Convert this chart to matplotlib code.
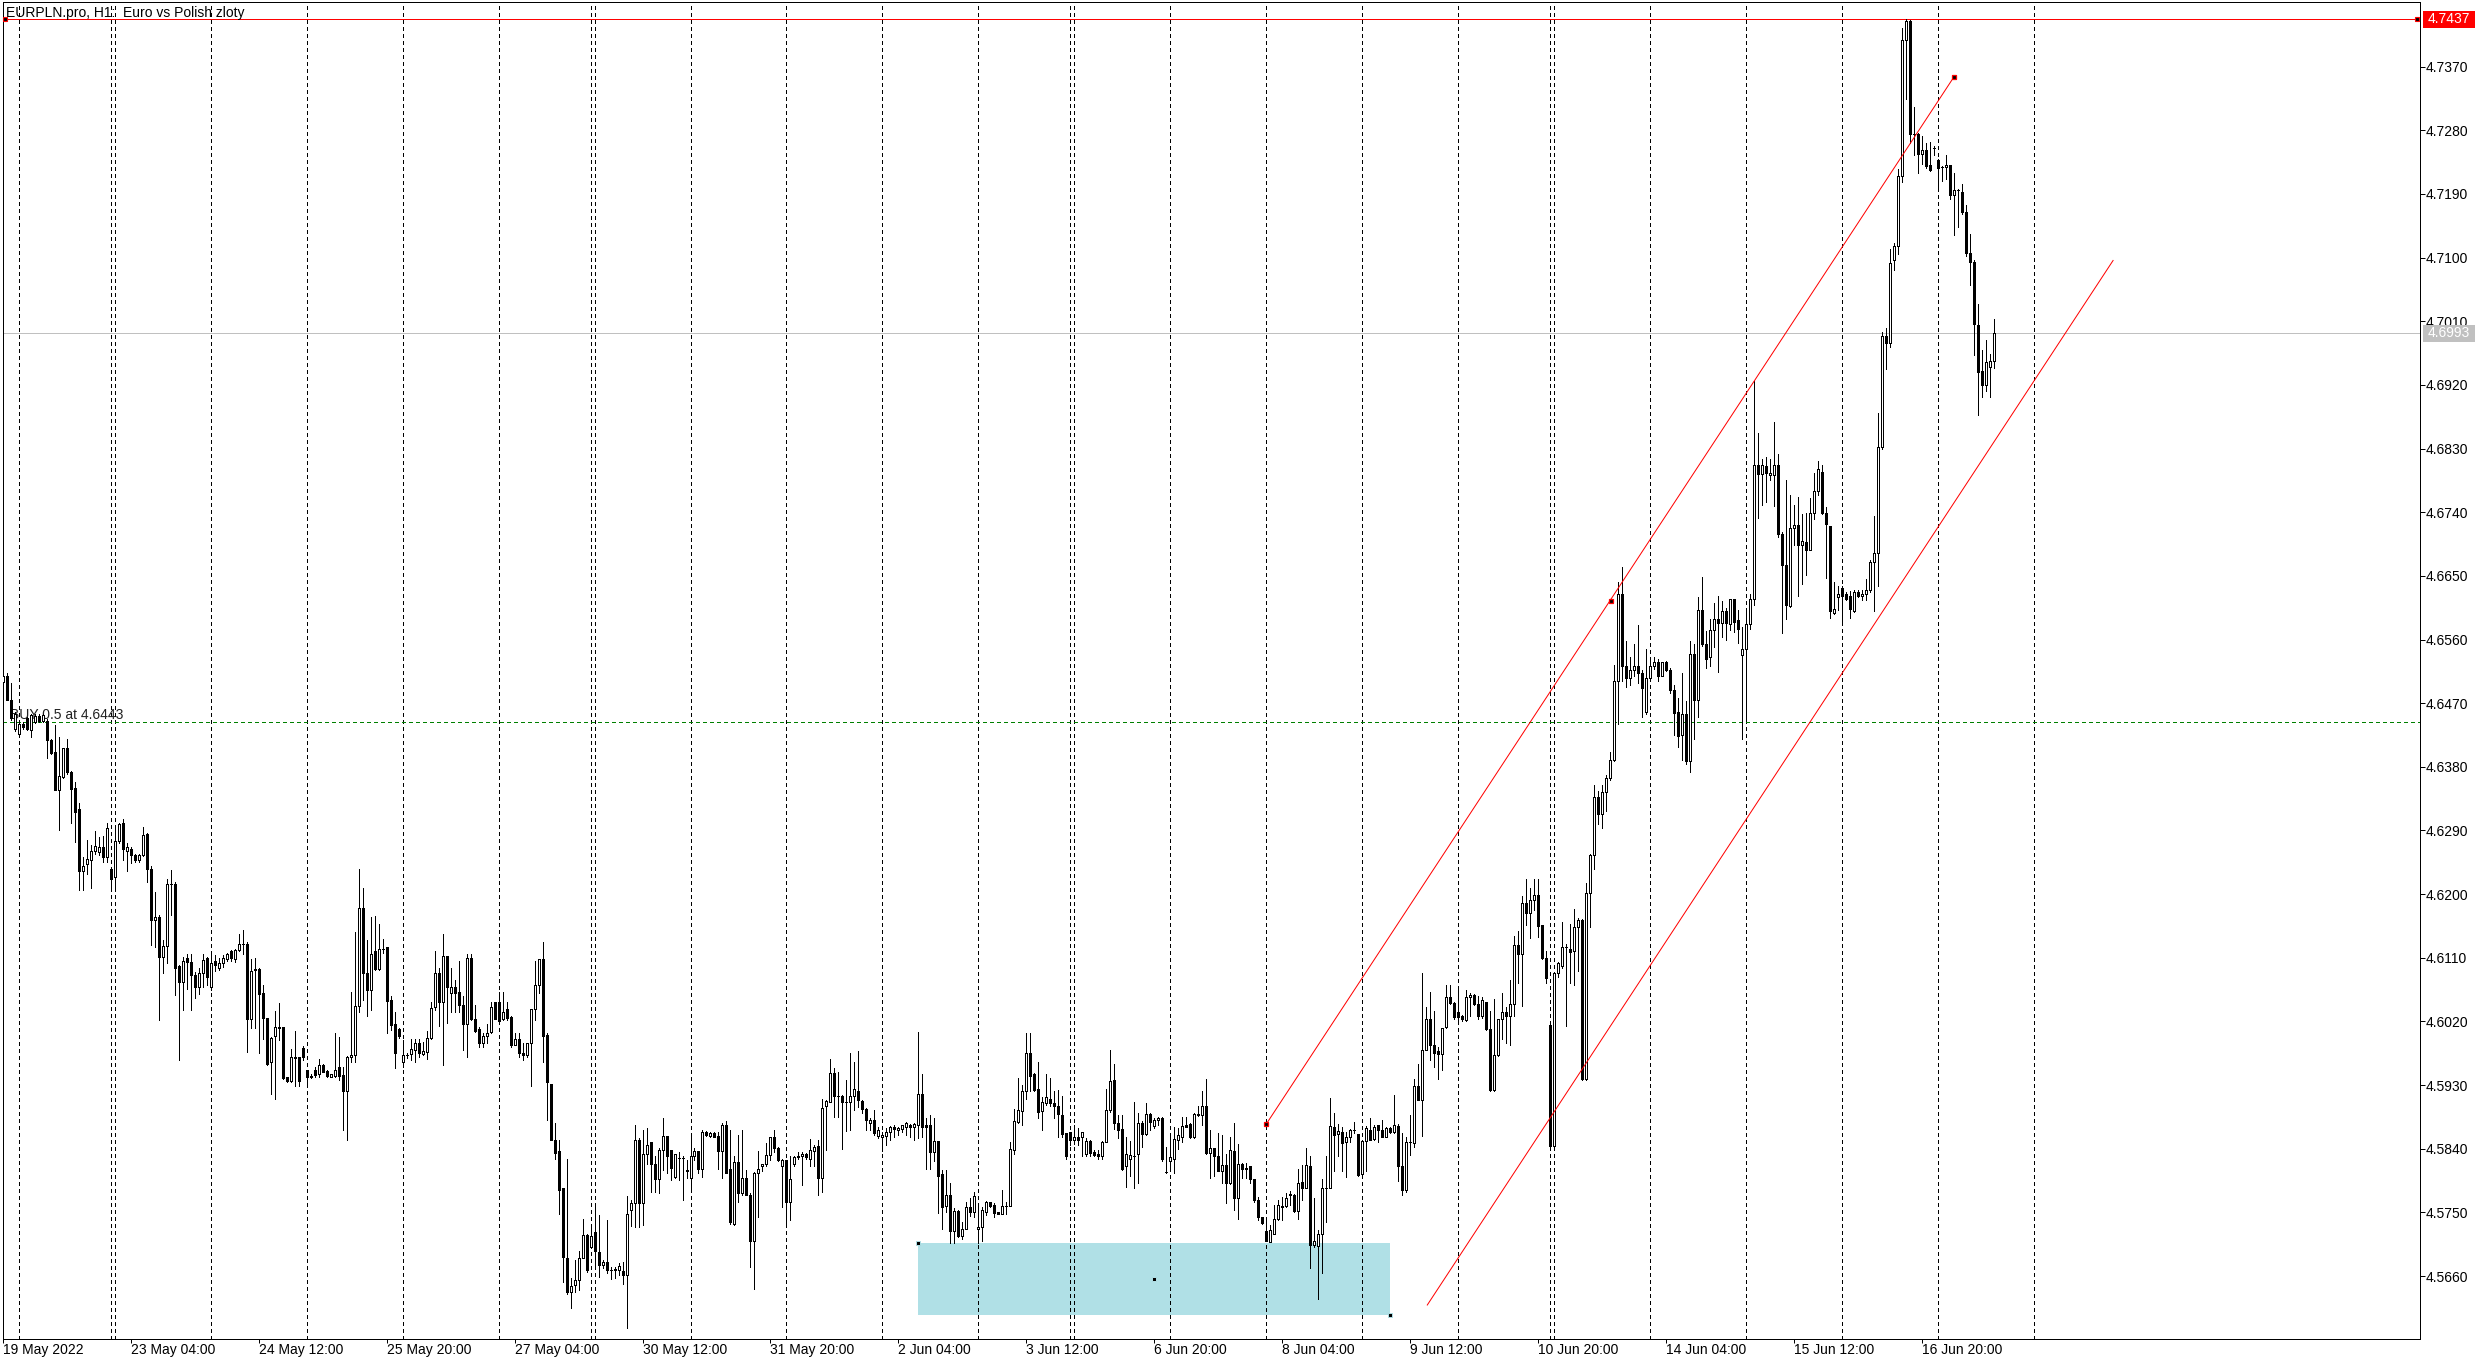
import numpy as np
import matplotlib
matplotlib.use("Agg")
import matplotlib.pyplot as plt
import matplotlib.transforms as mtransforms
from matplotlib.collections import LineCollection
from matplotlib.patches import Rectangle

plt.rcParams['font.family'] = ['Liberation Sans', 'DejaVu Sans']

# EURPLN.pro H1 candles, values in pips above 4.5000 (one entry per bar)
PIP_BASE = 4.5
open_pips = [
    1500, 1508, 1475, 1433, 1427, 1441, 1449, 1432, 1444, 1452, 1445, 1445, 1418, 1401, 1347, 1366, 1406, 1372, 1350, 1320,
    1232, 1242, 1248, 1261, 1259, 1266, 1252, 1235, 1224, 1275, 1300, 1261, 1264, 1255, 1248, 1255, 1285, 1235, 1163, 1167,
    1111, 1126, 1215, 1214, 1098, 1076, 1110, 1104, 1085, 1068, 1088, 1109, 1069, 1106, 1096, 1103, 1108, 1119, 1108, 1121,
    1130, 1129, 1023, 1094, 1094, 1060, 1025, 962, 1000, 1012, 1012, 941, 936, 968, 969, 982, 951, 941, 952, 945,
    959, 950, 942, 943, 956, 944, 921, 969, 972, 1042, 1180, 1088, 1064, 1120, 1094, 1122, 1125, 1050, 1016, 1009,
    962, 972, 974, 980, 989, 974, 977, 996, 1041, 1088, 1047, 1113, 1060, 1069, 1061, 1043, 1017, 1109, 1023, 1009,
    989, 1000, 1005, 1048, 1048, 1024, 1038, 1026, 986, 995, 975, 972, 989, 1038, 1072, 1108, 1001, 932, 853, 837,
    784, 686, 638, 647, 655, 686, 718, 701, 722, 694, 676, 680, 669, 669, 669, 667, 661, 754, 763, 853,
    763, 832, 849, 818, 797, 838, 858, 838, 800, 827, 827, 810, 798, 829, 837, 811, 863, 858, 862, 858,
    837, 874, 812, 734, 821, 777, 799, 775, 710, 805, 815, 818, 831, 856, 841, 815, 824, 764, 818, 830,
    829, 832, 826, 837, 844, 799, 901, 906, 947, 914, 914, 906, 906, 915, 922, 907, 896, 877, 881, 858,
    856, 858, 863, 871, 867, 868, 870, 873, 871, 874, 917, 873, 873, 836, 851, 804, 759, 775, 723, 752,
    716, 727, 758, 750, 727, 730, 751, 764, 760, 750, 748, 759, 759, 838, 878, 894, 921, 976, 945, 924,
    894, 904, 911, 904, 901, 888, 862, 863, 853, 856, 857, 832, 851, 836, 833, 829, 849, 895, 937, 877,
    868, 815, 825, 830, 833, 877, 861, 889, 872, 881, 884, 807, 823, 826, 853, 856, 874, 875, 856, 889,
    887, 900, 834, 841, 830, 809, 817, 791, 837, 771, 819, 812, 815, 797, 767, 743, 724, 708, 720, 740,
    757, 759, 774, 775, 752, 793, 785, 816, 704, 703, 720, 785, 785, 871, 861, 863, 849, 856, 867, 861,
    804, 851, 867, 854, 873, 866, 857, 869, 863, 872, 816, 781, 850, 848, 929, 909, 980, 1024, 986, 978,
    974, 1012, 1054, 1046, 1034, 1027, 1022, 1054, 1057, 1045, 1027, 1047, 1009, 923, 972, 1024, 1034, 1027, 1044, 1128,
    1116, 1187, 1173, 1191, 1199, 1156, 1110, 1015, 844, 1089, 1098, 1125, 1123, 1120, 1154, 1163, 938, 1201, 1256, 1337,
    1314, 1345, 1364, 1390, 1502, 1625, 1522, 1506, 1517, 1522, 1512, 1457, 1506, 1522, 1528, 1509, 1528, 1517, 1488, 1457,
    1425, 1454, 1388, 1540, 1475, 1602, 1553, 1535, 1573, 1589, 1584, 1601, 1582, 1617, 1587, 1538, 1546, 1582, 1618, 1807,
    1794, 1805, 1792, 1792, 1807, 1709, 1665, 1607, 1718, 1722, 1693, 1698, 1687, 1739, 1770, 1797, 1739, 1720, 1598, 1620,
    1633, 1625, 1621, 1600, 1627, 1621, 1625, 1630, 1670, 1683, 1832, 1989, 1980, 2096, 2117, 2215, 2408, 2435, 2275, 2275,
    2246, 2252, 2231, 2255, 2238, 2228, 2228, 2231, 2188, 2195, 2193, 2164, 2106, 2094, 2005, 1940, 1920, 1946, 1954,
]
high_pips = [
    1514, 1512, 1498, 1458, 1443, 1443, 1451, 1455, 1454, 1454, 1455, 1447, 1420, 1439, 1422, 1406, 1419, 1374, 1358, 1329,
    1253, 1276, 1269, 1289, 1281, 1282, 1300, 1237, 1298, 1301, 1306, 1272, 1267, 1257, 1257, 1295, 1287, 1240, 1203, 1170,
    1135, 1221, 1234, 1217, 1100, 1111, 1116, 1116, 1090, 1095, 1116, 1111, 1116, 1114, 1109, 1114, 1117, 1121, 1123, 1143,
    1149, 1133, 1108, 1109, 1096, 1071, 1025, 998, 1035, 1046, 1012, 941, 981, 1006, 969, 985, 952, 945, 955, 967,
    960, 951, 946, 1004, 998, 956, 971, 1061, 1146, 1235, 1208, 1135, 1168, 1169, 1158, 1137, 1125, 1056, 1034, 1010,
    994, 975, 995, 995, 995, 991, 1006, 1047, 1120, 1095, 1143, 1113, 1096, 1078, 1105, 1056, 1116, 1116, 1043, 1012,
    1003, 1017, 1047, 1048, 1061, 1061, 1048, 1027, 1003, 1003, 990, 990, 1038, 1105, 1108, 1132, 1004, 932, 877, 853,
    784, 826, 657, 683, 696, 741, 720, 731, 759, 746, 683, 739, 673, 673, 679, 680, 773, 767, 874, 855,
    866, 869, 850, 830, 841, 883, 858, 838, 833, 836, 829, 824, 858, 841, 837, 866, 865, 864, 864, 864,
    877, 879, 866, 829, 860, 867, 810, 777, 807, 837, 819, 848, 857, 867, 843, 825, 824, 830, 830, 836,
    836, 834, 854, 845, 852, 911, 909, 967, 954, 948, 916, 937, 975, 962, 978, 909, 897, 884, 895, 870,
    864, 869, 872, 873, 871, 874, 878, 875, 877, 1005, 945, 884, 887, 884, 851, 810, 810, 791, 756, 753,
    737, 765, 771, 779, 758, 758, 766, 765, 763, 751, 782, 765, 850, 896, 940, 930, 1003, 1003, 947, 963,
    913, 946, 940, 922, 923, 915, 862, 864, 874, 869, 864, 855, 852, 838, 838, 851, 925, 980, 960, 888,
    888, 857, 851, 906, 891, 879, 904, 891, 884, 885, 885, 843, 857, 871, 869, 885, 885, 876, 890, 900,
    922, 938, 866, 841, 862, 859, 833, 857, 877, 847, 820, 820, 816, 797, 772, 744, 739, 732, 761, 768,
    772, 777, 780, 776, 812, 817, 841, 829, 770, 725, 797, 830, 912, 890, 875, 870, 864, 868, 878, 861,
    852, 872, 884, 874, 874, 881, 871, 871, 916, 875, 862, 857, 888, 939, 960, 1089, 1041, 1061, 1035, 984,
    1011, 1071, 1072, 1047, 1069, 1029, 1064, 1060, 1059, 1056, 1055, 1047, 1035, 1051, 1024, 1060, 1041, 1079, 1141, 1148,
    1197, 1221, 1209, 1221, 1221, 1156, 1119, 1015, 1089, 1104, 1161, 1129, 1158, 1179, 1166, 1165, 1216, 1257, 1355, 1346,
    1355, 1369, 1401, 1524, 1642, 1662, 1558, 1535, 1554, 1580, 1517, 1546, 1536, 1535, 1533, 1528, 1529, 1520, 1496, 1477,
    1512, 1473, 1558, 1554, 1620, 1649, 1572, 1589, 1611, 1622, 1614, 1605, 1618, 1618, 1602, 1578, 1600, 1625, 1926, 1852,
    1815, 1818, 1815, 1867, 1823, 1712, 1786, 1765, 1750, 1761, 1738, 1739, 1760, 1796, 1812, 1807, 1747, 1720, 1641, 1635,
    1635, 1627, 1629, 1630, 1630, 1630, 1645, 1672, 1734, 1880, 1995, 2001, 2112, 2121, 2226, 2425, 2437, 2436, 2313, 2276,
    2272, 2262, 2263, 2258, 2240, 2230, 2245, 2231, 2220, 2197, 2204, 2175, 2134, 2096, 2034, 1970, 1984, 1964, 2013,
]
low_pips = [
    1498, 1474, 1446, 1430, 1425, 1434, 1432, 1422, 1442, 1443, 1443, 1393, 1398, 1347, 1290, 1364, 1370, 1301, 1273, 1206,
    1206, 1229, 1208, 1257, 1255, 1246, 1246, 1210, 1210, 1272, 1248, 1232, 1244, 1245, 1246, 1254, 1217, 1128, 1125, 1022,
    1088, 1102, 1170, 1058, 965, 1036, 1066, 1036, 1053, 1059, 1069, 1071, 1064, 1092, 1093, 1097, 1106, 1106, 1104, 1119,
    1116, 977, 1011, 1010, 975, 995, 958, 918, 911, 994, 938, 935, 934, 928, 928, 965, 930, 940, 942, 942,
    948, 942, 941, 942, 937, 866, 852, 962, 962, 1034, 1050, 1027, 1036, 1093, 1093, 1117, 1004, 1008, 954, 997,
    956, 968, 965, 963, 969, 973, 967, 995, 1036, 1014, 959, 1018, 1034, 1034, 1034, 979, 969, 1022, 1005, 984,
    984, 989, 1003, 1023, 1018, 1022, 1022, 984, 986, 969, 965, 970, 929, 1022, 1060, 962, 880, 853, 826, 747,
    652, 635, 615, 638, 640, 685, 665, 699, 671, 658, 671, 664, 656, 657, 661, 649, 587, 731, 730, 730,
    732, 818, 779, 779, 778, 810, 805, 796, 798, 796, 768, 798, 785, 824, 805, 800, 858, 857, 856, 811,
    798, 805, 734, 732, 764, 775, 774, 673, 641, 743, 808, 816, 824, 836, 823, 758, 735, 739, 816, 825,
    788, 826, 815, 815, 774, 779, 838, 906, 885, 885, 839, 865, 866, 895, 899, 891, 866, 866, 859, 855,
    837, 845, 852, 856, 859, 863, 860, 856, 852, 855, 856, 811, 812, 822, 749, 726, 750, 707, 707, 715,
    713, 726, 745, 744, 707, 709, 746, 758, 743, 747, 747, 747, 759, 833, 877, 873, 910, 922, 922, 884,
    866, 902, 900, 884, 857, 857, 825, 845, 846, 845, 829, 830, 829, 830, 826, 826, 849, 892, 868, 855,
    810, 786, 802, 785, 791, 843, 859, 866, 869, 873, 822, 805, 811, 805, 839, 850, 870, 855, 855, 886,
    874, 833, 799, 802, 808, 792, 763, 790, 754, 740, 798, 799, 792, 765, 739, 733, 709, 708, 719, 739,
    739, 758, 760, 751, 740, 768, 784, 672, 701, 627, 664, 737, 784, 808, 830, 809, 800, 849, 862, 802,
    803, 809, 852, 852, 849, 857, 856, 862, 862, 795, 774, 779, 831, 843, 909, 858, 979, 965, 956, 938,
    952, 1010, 1044, 1024, 1017, 1020, 1021, 1027, 1043, 1023, 1025, 1008, 922, 922, 971, 995, 990, 986, 1027, 1075,
    1042, 1156, 1138, 1177, 1140, 1108, 1074, 843, 838, 1083, 1096, 1013, 1074, 1072, 1092, 937, 937, 1154, 1235, 1299,
    1293, 1317, 1362, 1388, 1440, 1502, 1493, 1495, 1509, 1498, 1450, 1455, 1502, 1519, 1502, 1508, 1515, 1484, 1425, 1408,
    1390, 1384, 1372, 1419, 1450, 1551, 1520, 1522, 1549, 1514, 1564, 1560, 1573, 1571, 1555, 1420, 1448, 1575, 1609, 1732,
    1750, 1754, 1786, 1749, 1705, 1569, 1589, 1606, 1694, 1622, 1638, 1651, 1686, 1731, 1765, 1738, 1647, 1590, 1596, 1602,
    1586, 1616, 1590, 1599, 1620, 1616, 1616, 1627, 1600, 1635, 1830, 1942, 1973, 2082, 2105, 2207, 2325, 2262, 2245, 2219,
    2233, 2227, 2223, 2245, 2200, 2209, 2211, 2183, 2132, 2144, 2162, 2102, 2061, 1962, 1877, 1903, 1911, 1903, 1944,
]
close_pips = [
    1508, 1475, 1449, 1455, 1441, 1436, 1434, 1453, 1452, 1445, 1453, 1418, 1400, 1347, 1367, 1406, 1372, 1348, 1316, 1232,
    1240, 1250, 1261, 1268, 1266, 1252, 1293, 1221, 1275, 1299, 1264, 1266, 1255, 1248, 1255, 1284, 1235, 1163, 1167, 1111,
    1126, 1215, 1214, 1096, 1076, 1105, 1104, 1085, 1069, 1088, 1107, 1083, 1102, 1100, 1103, 1109, 1115, 1109, 1121, 1129,
    1129, 1023, 1091, 1093, 1059, 1025, 960, 996, 1012, 1011, 940, 936, 969, 969, 936, 969, 942, 943, 944, 959,
    949, 943, 945, 951, 943, 921, 969, 972, 1042, 1180, 1088, 1064, 1116, 1094, 1122, 1123, 1049, 1015, 976, 999,
    972, 973, 981, 989, 975, 978, 996, 1039, 1088, 1047, 1113, 1069, 1069, 1060, 1043, 1017, 1109, 1023, 1007, 989,
    1000, 1003, 1040, 1023, 1020, 1034, 1025, 986, 995, 976, 973, 989, 1038, 1072, 1108, 1000, 935, 853, 834, 781,
    687, 638, 646, 655, 686, 718, 669, 717, 696, 676, 680, 669, 669, 670, 674, 662, 747, 763, 853, 763,
    832, 845, 818, 797, 838, 858, 830, 813, 832, 827, 827, 808, 829, 837, 811, 864, 859, 862, 857, 837,
    874, 806, 736, 821, 777, 799, 775, 709, 805, 812, 818, 831, 856, 841, 824, 824, 764, 797, 828, 828,
    832, 828, 838, 843, 798, 898, 907, 947, 914, 914, 906, 906, 915, 925, 909, 896, 880, 881, 862, 867,
    859, 863, 871, 868, 869, 873, 876, 870, 875, 917, 870, 871, 836, 851, 802, 758, 775, 723, 752, 716,
    727, 758, 750, 773, 730, 753, 764, 759, 749, 748, 759, 759, 840, 879, 895, 922, 976, 943, 923, 892,
    906, 913, 905, 901, 889, 861, 829, 852, 856, 853, 863, 851, 834, 831, 829, 849, 895, 936, 876, 866,
    811, 832, 831, 830, 877, 861, 889, 878, 881, 884, 825, 807, 828, 854, 860, 872, 871, 856, 889, 887,
    900, 834, 841, 829, 809, 817, 792, 838, 771, 819, 812, 812, 797, 767, 743, 735, 709, 725, 740, 760,
    759, 771, 776, 752, 792, 785, 817, 704, 709, 720, 785, 785, 872, 859, 865, 848, 857, 867, 867, 803,
    851, 869, 853, 871, 866, 857, 869, 863, 873, 815, 781, 850, 850, 929, 909, 980, 1024, 986, 976, 974,
    1010, 1054, 1046, 1026, 1026, 1023, 1054, 1057, 1044, 1027, 1050, 1009, 923, 972, 1024, 1034, 1027, 1045, 1128, 1116,
    1187, 1173, 1192, 1199, 1155, 1109, 1082, 844, 1089, 1102, 1125, 1125, 1118, 1154, 1163, 938, 1201, 1256, 1337, 1314,
    1345, 1364, 1390, 1502, 1625, 1522, 1506, 1517, 1522, 1512, 1491, 1506, 1522, 1528, 1509, 1528, 1517, 1488, 1456, 1424,
    1454, 1388, 1540, 1475, 1602, 1553, 1533, 1573, 1589, 1584, 1601, 1583, 1617, 1585, 1575, 1546, 1582, 1618, 1807, 1794,
    1807, 1796, 1796, 1807, 1709, 1665, 1609, 1718, 1722, 1693, 1700, 1687, 1739, 1770, 1801, 1739, 1724, 1600, 1603, 1625,
    1621, 1618, 1603, 1627, 1621, 1625, 1630, 1670, 1683, 1832, 1989, 1980, 2093, 2117, 2215, 2408, 2435, 2275, 2275, 2246,
    2252, 2229, 2224, 2255, 2227, 2228, 2231, 2188, 2195, 2195, 2164, 2106, 2094, 2006, 1939, 1920, 1953, 1954, 1993,
]

# bar index where each trading day (and the one Sunday bar) begins
day_starts = [4, 27, 28, 52, 76, 100, 124, 147, 148, 172, 196, 220, 244, 267, 268,
              292, 316, 340, 364, 387, 388, 412, 436, 460, 484, 508]
time_labels = ["19 May 2022", "23 May 04:00", "24 May 12:00", "25 May 20:00", "27 May 04:00",
               "30 May 12:00", "31 May 20:00", "2 Jun 04:00", "3 Jun 12:00", "6 Jun 20:00",
               "8 Jun 04:00", "9 Jun 12:00", "10 Jun 20:00", "14 Jun 04:00", "15 Jun 12:00",
               "16 Jun 20:00"]
bars_per_label = 32
price_ticks = [4.7370, 4.7280, 4.7190, 4.7100, 4.7010, 4.6920, 4.6830, 4.6740, 4.6650, 4.6560,
               4.6470, 4.6380, 4.6290, 4.6200, 4.6110, 4.6020, 4.5930, 4.5840, 4.5750, 4.5660]

high_level = 4.7437
bid_price = 4.6993
order_price = 4.6443
order_text = "BUY 0.5 at 4.6443"
title = "EURPLN.pro, H1:  Euro vs Polish zloty"

# equidistant channel (bar index, price)
chan_upper_x = [316, 488]
chan_upper_y = [4.5875, 4.7356]
chan_lower_x = [356.25, 527.75]
chan_lower_y = [4.5619, 4.7096]
chan_point_x = [316, 402.1, 488]
chan_point_y = [4.5875, 4.66145, 4.7356]

# support zone rectangle
zone_x = [229, 347]
zone_y = [4.5605, 4.5707]

o = PIP_BASE + np.array(open_pips) / 1e4
h = PIP_BASE + np.array(high_pips) / 1e4
l = PIP_BASE + np.array(low_pips) / 1e4
c = PIP_BASE + np.array(close_pips) / 1e4
h = np.maximum(h, np.maximum(o, c))
l = np.minimum(l, np.minimum(o, c))
idx = np.arange(len(o))

W, H = 2490, 1365
fig = plt.figure(figsize=(W / 100, H / 100), dpi=100)
ax_l, ax_r, ax_t, ax_b = 2.7, 2420, 2.3, 1338.5
ax = fig.add_axes([ax_l / W, 1 - ax_b / H, (ax_r - ax_l) / W, (ax_b - ax_t) / H])
ax.set_xlim(0.175, 604.5)
ax.set_ylim(4.557164, 4.746106)
px = 0.72  # one pixel in points

for s in ax.spines.values():
    s.set_linewidth(px)
    s.set_color('black')

# period separators
for d in day_starts:
    ax.axvline(d, color='black', lw=px, linestyle=(0, (3, 3)), zorder=1, antialiased=False)

# support zone
ax.add_patch(Rectangle((zone_x[0], zone_y[0]), zone_x[1] - zone_x[0], zone_y[1] - zone_y[0],
                       facecolor='#B0E0E6', edgecolor='none', zorder=0.8, antialiased=False))
ax.plot([zone_x[0], zone_x[1], (zone_x[0] + zone_x[1]) / 2],
        [zone_y[1], zone_y[0], (zone_y[0] + zone_y[1]) / 2],
        linestyle='none', marker='s', ms=3, mfc='black', mec='#B0E0E6', mew=0.7, zorder=6)

# horizontal levels
ax.axhline(bid_price, color='#C0C0C0', lw=px, zorder=2, antialiased=False)
ax.axhline(order_price, color='#008000', lw=px, linestyle=(0, (4, 3)), zorder=2, antialiased=False)
ax.axhline(high_level, color='red', lw=px, zorder=2, antialiased=False)
blend = mtransforms.blended_transform_factory(ax.transAxes, ax.transData)
ax.plot([0.00095, 0.99876], [high_level, high_level], transform=blend, linestyle='none',
        marker='s', ms=3.2, mfc='black', mec='red', mew=0.8, zorder=6, clip_on=False)
ax.annotate(order_text, xy=(0.003, order_price), xycoords=blend, xytext=(0, 2.7),
            textcoords='offset points', fontsize=10, color='#202020', va='baseline', ha='left',
            zorder=2)

# candles
wicks = LineCollection([[(i, lo), (i, hi)] for i, lo, hi in zip(idx, l, h)],
                       colors='black', linewidths=px, zorder=3, antialiaseds=False)
ax.add_collection(wicks)
bull = c >= o
body_bottom = np.minimum(o, c)
body_height = np.maximum(np.abs(c - o), 0.000005)
ax.bar(idx[bull], body_height[bull], bottom=body_bottom[bull], width=0.5,
       color='white', edgecolor='black', linewidth=px, zorder=4, antialiased=False)
ax.bar(idx[~bull], body_height[~bull], bottom=body_bottom[~bull], width=0.5,
       color='black', edgecolor='black', linewidth=px, zorder=4, antialiased=False)

# channel
ax.plot(chan_upper_x, chan_upper_y, color='red', lw=px, zorder=5)
ax.plot(chan_lower_x, chan_lower_y, color='red', lw=px, zorder=5)
ax.plot(chan_point_x, chan_point_y, linestyle='none', marker='s', ms=3.2,
        mfc='black', mec='red', mew=0.9, zorder=6)

# right price scale
ax.yaxis.tick_right()
ax.set_yticks(price_ticks)
ax.set_yticklabels([f"{p:.4f}" for p in price_ticks])
ax.tick_params(axis='y', length=3.6, width=px, pad=0.7, labelsize=10, colors='black')

# time scale
ax.set_xticks(np.arange(len(time_labels)) * bars_per_label)
ax.set_xticklabels(time_labels)
for lab in ax.get_xticklabels():
    lab.set_horizontalalignment('left')
ax.tick_params(axis='x', length=2.9, width=px, pad=0.5, labelsize=10, colors='black')

# price tags on the scale
box_left = (2423 - ax_l) / (ax_r - ax_l)
box_w = 52 / (ax_r - ax_l)
box_h = 17 / 7072
for price, face in [(high_level, 'red'), (bid_price, '#C0C0C0')]:
    ax.add_patch(Rectangle((box_left, price - box_h / 2), box_w, box_h, transform=blend,
                           facecolor=face, edgecolor='none', clip_on=False, zorder=7))
    ax.text(box_left + box_w / 2, price, f"{price:.4f}", transform=blend, color='white',
            fontsize=10, ha='center', va='center', zorder=8, clip_on=False)

fig.text(6 / W, 1 - 16.7 / H, title, fontsize=10, color='black', ha='left', va='baseline')

fig.savefig('out.png', dpi=100, facecolor='white')
